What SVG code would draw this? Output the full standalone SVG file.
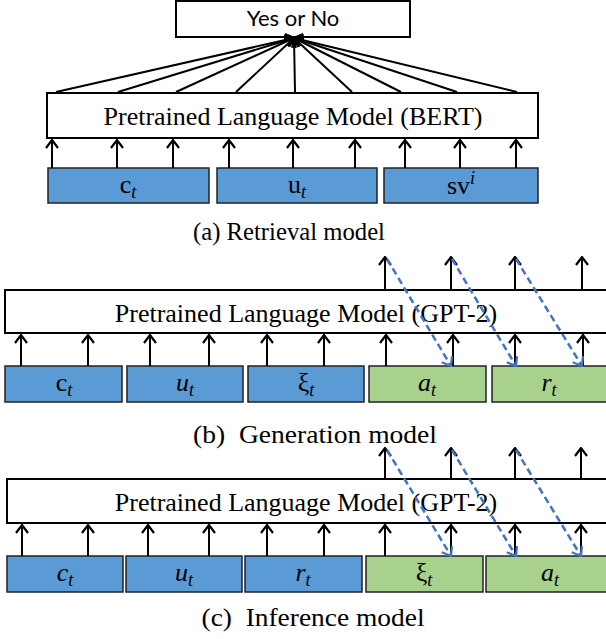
<svg xmlns="http://www.w3.org/2000/svg" width="606" height="639" viewBox="0 0 606 639">
<style>
.bg{fill:#fff}
.wbox{fill:#fff;stroke:#000;stroke-width:2}
.blue{fill:#5B9BD5;stroke:#222;stroke-width:1.5}
.green{fill:#A9D18E;stroke:#222;stroke-width:1.5}
.arr{stroke:#000;stroke-width:2;fill:none;marker-end:url(#ah)}
.dash{stroke:#4472C4;stroke-width:2.5;fill:none;stroke-dasharray:7 4;marker-end:url(#bh)}
.ser{font-family:"Liberation Serif","Times New Roman",serif;fill:#000}
.math{font-family:"Liberation Serif","DejaVu Serif",serif;fill:#000;font-size:26px}
.sans{font-family:Lato,"Open Sans","Liberation Sans",sans-serif;fill:#000}
</style>
<defs>
<marker id="ah" viewBox="0 0 10 14" refX="9" refY="7" markerWidth="10" markerHeight="14" markerUnits="userSpaceOnUse" orient="auto">
<path d="M1,1 L9,7 L1,13" fill="none" stroke="#000" stroke-width="2.2"/>
</marker>
<marker id="bh" viewBox="0 0 10 14" refX="9" refY="7" markerWidth="10" markerHeight="14" markerUnits="userSpaceOnUse" orient="auto">
<path d="M1,1 L9,7 L1,13" fill="none" stroke="#4472C4" stroke-width="2.2"/>
</marker>
</defs>
<rect class="bg" x="0" y="0" width="606" height="639"/>

<!-- (a) Retrieval model -->
<g id="yesno">
<rect class="wbox" x="176" y="1" width="234" height="36"/>
<text class="sans" x="293" y="26" font-size="22" text-anchor="middle">Yes or No</text>
</g>
<g id="bert">
<rect class="wbox" x="47" y="93" width="491" height="45"/>
<text class="ser" x="293" y="125" font-size="26" text-anchor="middle">Pretrained Language Model (BERT)</text>
</g>
<g id="a_ct">
<rect class="blue" x="48" y="168" width="161" height="35"/>
<text class="math" x="128" y="193" text-anchor="middle">c<tspan font-style="italic" font-size="18" dy="5">t</tspan></text>
</g>
<g id="a_ut">
<rect class="blue" x="217" y="168" width="160" height="35"/>
<text class="math" x="297" y="193" text-anchor="middle">u<tspan font-style="italic" font-size="18" dy="5">t</tspan></text>
</g>
<g id="a_sv">
<rect class="blue" x="384" y="168" width="154" height="35"/>
<text class="math" x="461" y="194" text-anchor="middle">sv<tspan font-style="italic" font-size="18" dy="-10">i</tspan></text>
</g>
<text class="ser" x="289" y="240" font-size="25" text-anchor="middle" textLength="192" lengthAdjust="spacingAndGlyphs">(a) Retrieval model</text>

<g id="connectors_a">
<line class="arr" x1="56" y1="92" x2="294" y2="38"/>
<line class="arr" x1="118" y1="92" x2="294" y2="38"/>
<line class="arr" x1="176" y1="92" x2="294" y2="38"/>
<line class="arr" x1="236" y1="92" x2="294" y2="38"/>
<line class="arr" x1="295" y1="92" x2="294" y2="38"/>
<line class="arr" x1="352" y1="92" x2="294" y2="38"/>
<line class="arr" x1="401" y1="92" x2="294" y2="38"/>
<line class="arr" x1="457" y1="92" x2="294" y2="38"/>
<line class="arr" x1="517" y1="92" x2="294" y2="38"/>
<line class="arr" x1="52" y1="168" x2="52" y2="140"/>
<line class="arr" x1="117" y1="168" x2="117" y2="140"/>
<line class="arr" x1="173" y1="168" x2="173" y2="140"/>
<line class="arr" x1="229" y1="168" x2="229" y2="140"/>
<line class="arr" x1="293" y1="168" x2="293" y2="140"/>
<line class="arr" x1="355" y1="168" x2="355" y2="140"/>
<line class="arr" x1="405" y1="168" x2="405" y2="140"/>
<line class="arr" x1="460" y1="168" x2="460" y2="140"/>
<line class="arr" x1="516" y1="168" x2="516" y2="140"/>
</g>

<!-- (b) Generation model -->
<g id="gpt2_b">
<rect class="wbox" x="5" y="290" width="603" height="43"/>
<text class="ser" x="306" y="322" font-size="26" text-anchor="middle">Pretrained Language Model (GPT-2)</text>
</g>
<g id="b_ct">
<rect class="blue" x="5" y="366" width="117" height="36"/>
<text class="math" x="64" y="391" text-anchor="middle">c<tspan font-style="italic" font-size="18" dy="5">t</tspan></text>
</g>
<g id="b_ut">
<rect class="blue" x="127" y="366" width="116" height="36"/>
<text class="math" x="185" y="391" text-anchor="middle"><tspan font-style="italic">u</tspan><tspan font-style="italic" font-size="18" dy="5">t</tspan></text>
</g>
<g id="b_xi">
<rect class="blue" x="248" y="366" width="116" height="36"/>
<text class="math" x="306" y="391" text-anchor="middle">ξ<tspan font-style="italic" font-size="18" dy="5">t</tspan></text>
</g>
<g id="b_at">
<rect class="green" x="369" y="366" width="117" height="36"/>
<text class="math" x="427" y="391" text-anchor="middle"><tspan font-style="italic">a</tspan><tspan font-style="italic" font-size="18" dy="5">t</tspan></text>
</g>
<g id="b_rt">
<rect class="green" x="492" y="366" width="116" height="36"/>
<text class="math" x="549" y="391" text-anchor="middle"><tspan font-style="italic">r</tspan><tspan font-style="italic" font-size="18" dy="5">t</tspan></text>
</g>
<text class="ser" x="315" y="443" font-size="26" text-anchor="middle" xml:space="preserve" textLength="244" lengthAdjust="spacingAndGlyphs">(b)  Generation model</text>

<g id="connectors_b">
<line class="arr" x1="21" y1="366" x2="21" y2="335"/>
<line class="arr" x1="88" y1="366" x2="88" y2="335"/>
<line class="arr" x1="150" y1="366" x2="150" y2="335"/>
<line class="arr" x1="209" y1="366" x2="209" y2="335"/>
<line class="arr" x1="267" y1="366" x2="267" y2="335"/>
<line class="arr" x1="324" y1="366" x2="324" y2="335"/>
<line class="arr" x1="386" y1="366" x2="386" y2="335"/>
<line class="arr" x1="453" y1="366" x2="453" y2="335"/>
<line class="arr" x1="515" y1="366" x2="515" y2="335"/>
<line class="arr" x1="583" y1="366" x2="583" y2="335"/>
<line class="arr" x1="385" y1="290" x2="385" y2="257"/>
<line class="arr" x1="451" y1="290" x2="451" y2="257"/>
<line class="arr" x1="515" y1="290" x2="515" y2="257"/>
<line class="arr" x1="582" y1="290" x2="582" y2="257"/>
<line class="dash" x1="387" y1="259" x2="451" y2="366"/>
<line class="dash" x1="452" y1="259" x2="516" y2="366"/>
<line class="dash" x1="516" y1="259" x2="582" y2="366"/>
</g>

<!-- (c) Inference model -->
<g id="gpt2_c">
<rect class="wbox" x="7" y="479" width="601" height="44"/>
<text class="ser" x="306" y="511" font-size="26" text-anchor="middle">Pretrained Language Model (GPT-2)</text>
</g>
<g id="c_ct">
<rect class="blue" x="7" y="556" width="116" height="36"/>
<text class="math" x="65" y="581" text-anchor="middle"><tspan font-style="italic">c</tspan><tspan font-style="italic" font-size="18" dy="5">t</tspan></text>
</g>
<g id="c_ut">
<rect class="blue" x="126" y="556" width="116" height="36"/>
<text class="math" x="184" y="581" text-anchor="middle"><tspan font-style="italic">u</tspan><tspan font-style="italic" font-size="18" dy="5">t</tspan></text>
</g>
<g id="c_rt">
<rect class="blue" x="245" y="556" width="117" height="36"/>
<text class="math" x="303" y="581" text-anchor="middle"><tspan font-style="italic">r</tspan><tspan font-style="italic" font-size="18" dy="5">t</tspan></text>
</g>
<g id="c_xi">
<rect class="green" x="366" y="556" width="117" height="36"/>
<text class="math" x="424" y="581" text-anchor="middle">ξ<tspan font-style="italic" font-size="18" dy="5">t</tspan></text>
</g>
<g id="c_at">
<rect class="green" x="486" y="556" width="122" height="36"/>
<text class="math" x="550" y="581" text-anchor="middle"><tspan font-style="italic">a</tspan><tspan font-style="italic" font-size="18" dy="5">t</tspan></text>
</g>
<text class="ser" x="313" y="626" font-size="26" text-anchor="middle" xml:space="preserve" textLength="223" lengthAdjust="spacingAndGlyphs">(c)  Inference model</text>

<g id="connectors_c">
<line class="arr" x1="22" y1="556" x2="22" y2="525"/>
<line class="arr" x1="88" y1="556" x2="88" y2="525"/>
<line class="arr" x1="148" y1="556" x2="148" y2="525"/>
<line class="arr" x1="209" y1="556" x2="209" y2="525"/>
<line class="arr" x1="267" y1="556" x2="267" y2="525"/>
<line class="arr" x1="324" y1="556" x2="324" y2="525"/>
<line class="arr" x1="385" y1="556" x2="385" y2="525"/>
<line class="arr" x1="451" y1="556" x2="451" y2="525"/>
<line class="arr" x1="515" y1="556" x2="515" y2="525"/>
<line class="arr" x1="581" y1="556" x2="581" y2="525"/>
<line class="arr" x1="385" y1="479" x2="385" y2="448"/>
<line class="arr" x1="451" y1="479" x2="451" y2="448"/>
<line class="arr" x1="515" y1="479" x2="515" y2="448"/>
<line class="arr" x1="581" y1="479" x2="581" y2="448"/>
<line class="dash" x1="387" y1="450" x2="451" y2="556"/>
<line class="dash" x1="452" y1="450" x2="516" y2="556"/>
<line class="dash" x1="516" y1="450" x2="581" y2="556"/>
</g>
</svg>
